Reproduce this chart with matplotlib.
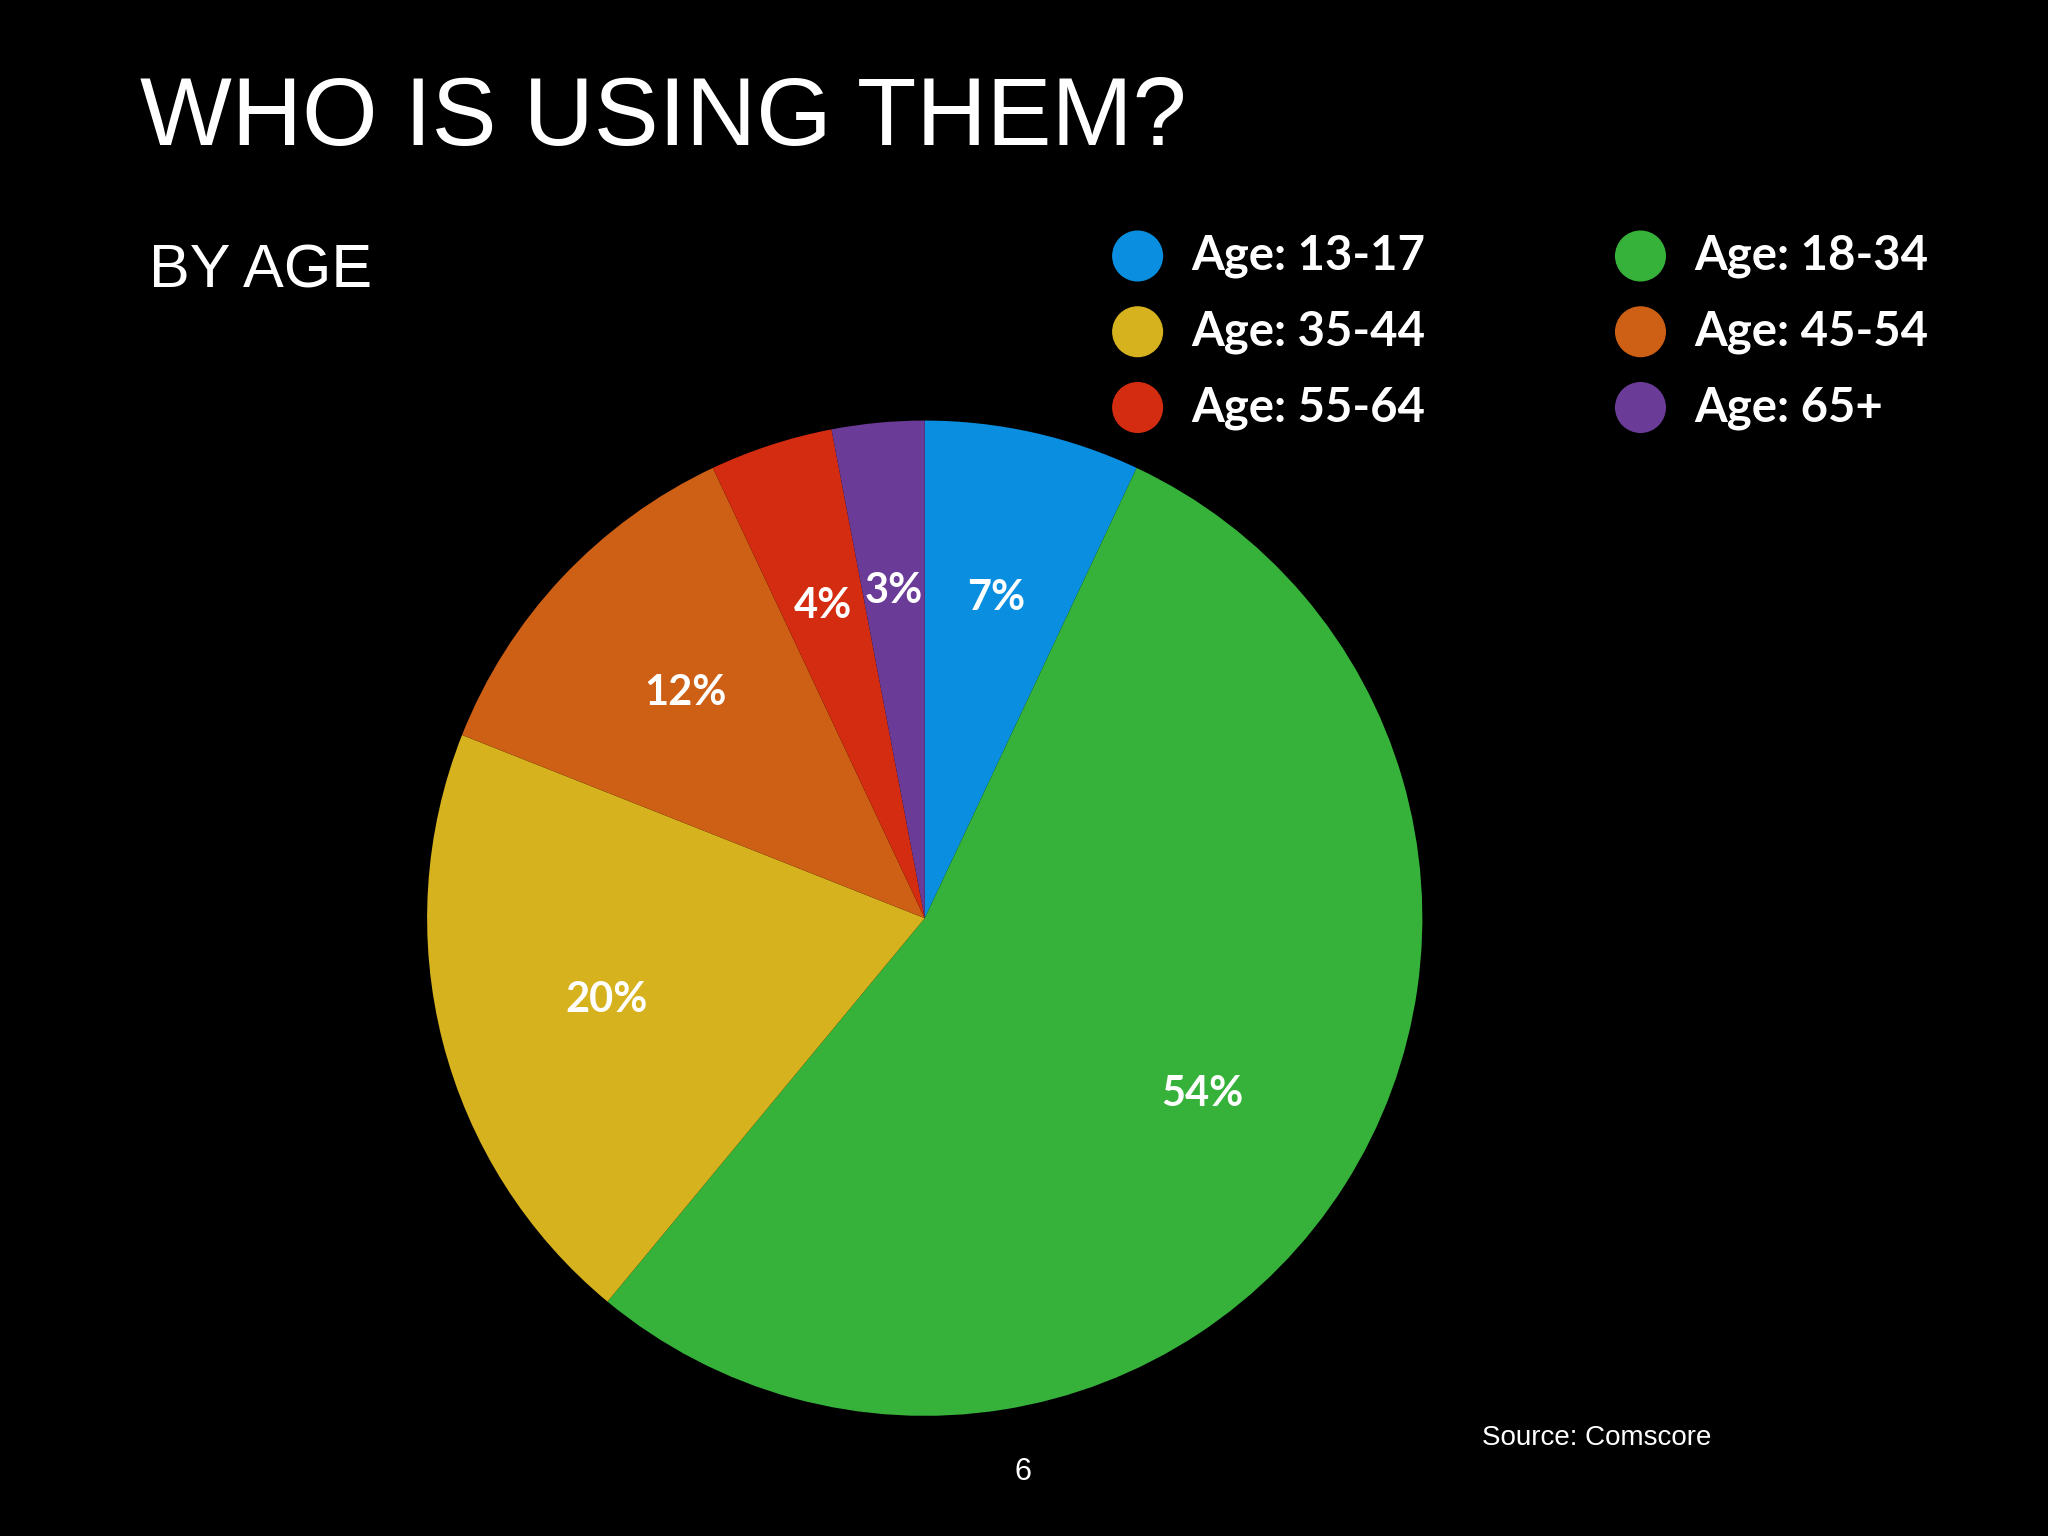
import matplotlib
matplotlib.use("Agg")
import matplotlib.pyplot as plt

labels = ["Age: 13-17", "Age: 18-34", "Age: 35-44", "Age: 45-54", "Age: 55-64", "Age: 65+"]
values = [7, 54, 20, 12, 4, 3]
colors = ["#0a8fe0", "#36b23b", "#d6b21e", "#cd6014", "#d42c10", "#6b3b98"]

fig = plt.figure(figsize=(20.48, 15.36), dpi=100, facecolor="black")
cx, cy = 708/1568, 1-703/1176
rw, rh = 381/1568, 381/1176
ax = fig.add_axes([cx-rw, cy-rh, 2*rw, 2*rh])
ax.set_facecolor("black")
wedges, texts, autotexts = ax.pie(values, colors=colors, startangle=90, counterclock=False,
       autopct=lambda p: f"{p:.0f}%", pctdistance=0.66, radius=1,
       wedgeprops=dict(linewidth=0),
       textprops=dict(color="white", fontsize=30, fontweight="bold", family="Lato"))
ax.set_xlim(-1, 1); ax.set_ylim(-1, 1); ax.set_aspect("equal"); ax.axis("off")

fig.text(107/1568, 1-92/1176, "WHO IS USING THEM?", color="white", fontsize=70,
         family="Liberation Sans", va="center", ha="left")
fig.text(114/1568, 1-208/1176, "BY AGE", color="white", fontsize=44,
         family="Liberation Sans", va="center", ha="left")
fig.text(1135/1568, 1-1101/1176, "Source: Comscore", color="white", fontsize=20,
         family="Liberation Sans", va="center", ha="left")
fig.text(783/1568, 1-1127/1176, "6", color="white", fontsize=22,
         family="Liberation Sans", va="center", ha="center")

mx = [871, 1256]
my = [196, 254, 312]
for i, (lab, col) in enumerate(zip(labels, colors)):
    c, r = i % 2, i // 2
    fig.patches.append(matplotlib.patches.Ellipse((mx[c]/1568, 1-my[r]/1176), 38/1568, 38/1176,
                       transform=fig.transFigure, color=col))
    fig.text((mx[c]+41)/1568, 1-my[r]/1176, lab, color="white", fontsize=34, fontweight="bold",
             family="Lato", va="center", ha="left")

fig.savefig("out.png", dpi=100, facecolor="black")
